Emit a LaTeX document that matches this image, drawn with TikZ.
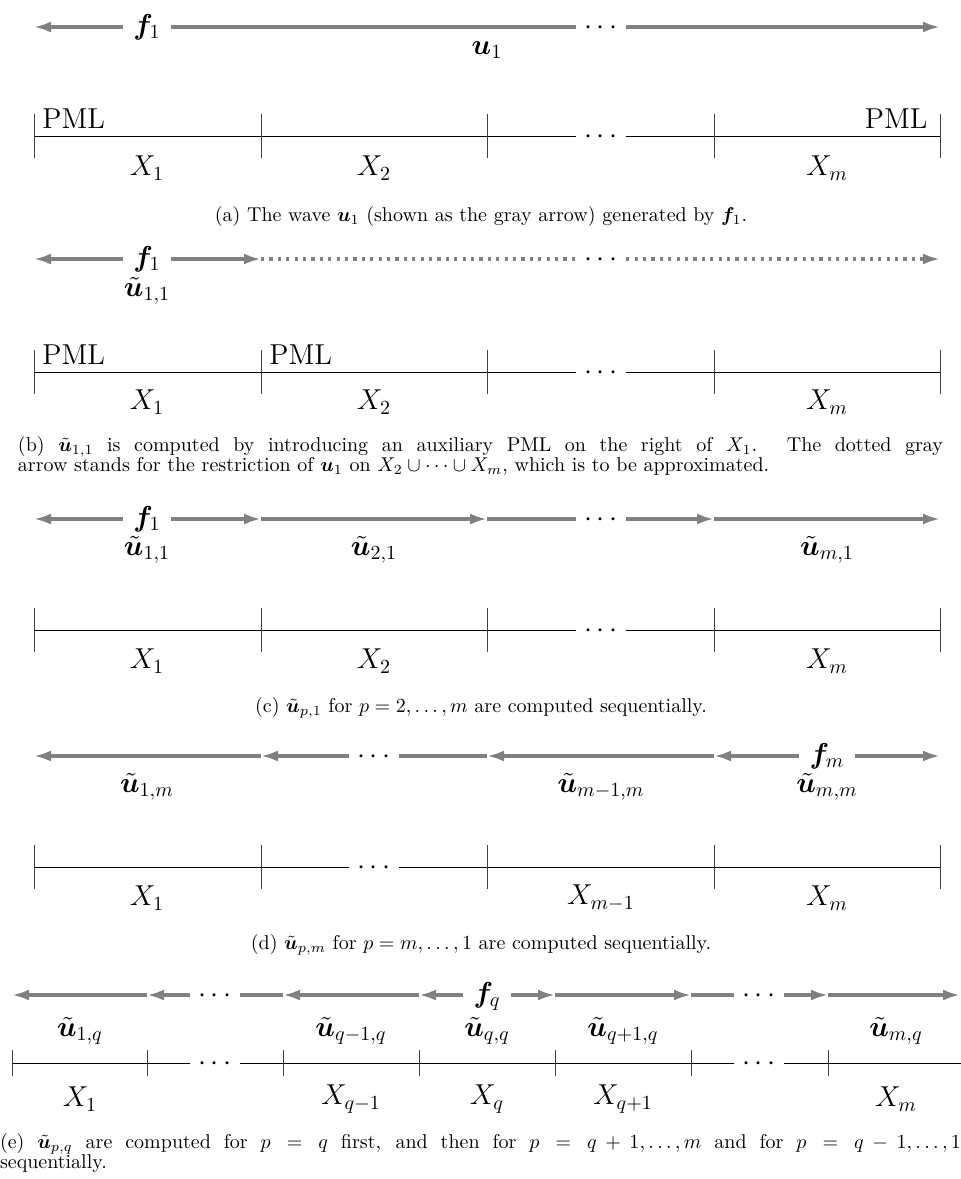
\documentclass[tikz,border=0pt]{standalone}
\usepackage{bm}
\usetikzlibrary{arrows.meta}
\tikzset{
  wave/.style={draw=gray, line width=1.6pt, -{Latex[length=8.5pt,width=5.5pt]}},
  waveline/.style={draw=gray, line width=1.6pt},
  wavedot/.style={draw=gray, line width=1.6pt, dash pattern=on 1.6pt off 2.6pt},
  seg/.style={draw=black, line width=0.5pt},
  tickmark/.style={draw=black!75, line width=0.5pt},
  onw/.style={font=\Large, inner xsep=5pt, inner ysep=0pt, text height=10pt, text depth=2.8pt},
  dts/.style={font=\Large, inner xsep=4pt, inner ysep=0pt, text height=7.2pt, text depth=0pt},
  lbl/.style={font=\Large, inner sep=0pt},
  pml/.style={font=\Large, inner sep=0pt},
  capt/.style={inner sep=0pt, font=\fontsize{10pt}{10pt}\selectfont},
}
\begin{document}
\begin{tikzpicture}[x=0.5pt,y=-0.5pt]
\useasboundingbox (0,0) rectangle (961,1179);

% ---------------- (a)
\coordinate (aL) at (34,27); \coordinate (aR) at (940,27);
\node[onw] (af) at (147,27) {$\bm f_1$};
\node[dts] (ad) at (601,27) {$\cdots$};
\node[lbl] (au) at (487,50) {$\bm u_1$};
\draw[wave] (af) -- (aL);
\draw[waveline] (af) -- (ad);
\draw[wave] (ad) -- (aR);
\coordinate (as0) at (34,136); \coordinate (as4) at (940,136);
\node[dts] (asd) at (601,136) {$\cdots$};
\draw[seg] (as0) -- (asd);
\draw[seg] (asd) -- (as4);
\foreach \x in {34,261,487,714,940} \draw[tickmark] (\x,114) -- (\x,158);
\node[pml, anchor=base west] (apl) at (42,128) {PML};
\node[pml, anchor=base east] (apr) at (928,128) {PML};
\node[lbl] (ax1) at (147,168) {$X_1$};
\node[lbl] (ax2) at (374,168) {$X_2$};
\node[lbl] (axm) at (827,168) {$X_m$};
\node[capt] (acap) at (481,216) {(a) The wave $\bm u_1$ (shown as the gray arrow) generated by $\bm f_1$.};

% ---------------- (b)
\coordinate (bL) at (34,259); \coordinate (b2) at (261,259); \coordinate (bR) at (940,259);
\node[onw] (bf) at (147,259) {$\bm f_1$};
\node[dts] (bd) at (601,259) {$\cdots$};
\node[lbl] (bu) at (147,291) {$\tilde{\bm u}_{1,1}$};
\draw[wave] (bf) -- (bL);
\draw[wave] (bf) -- (b2);
\draw[wavedot] (b2) -- (bd);
\draw[wavedot, -{Latex[length=8.5pt,width=5.5pt]}] (bd) -- (bR);
\coordinate (bs0) at (34,372); \coordinate (bs4) at (940,372);
\node[dts] (bsd) at (601,372) {$\cdots$};
\draw[seg] (bs0) -- (bsd);
\draw[seg] (bsd) -- (bs4);
\foreach \x in {34,261,487,714,940} \draw[tickmark] (\x,350) -- (\x,394);
\node[pml, anchor=base west] (bpl) at (42,364) {PML};
\node[pml, anchor=base west] (bp2) at (269,364) {PML};
\node[lbl] (bx1) at (147,402) {$X_1$};
\node[lbl] (bx2) at (374,402) {$X_2$};
\node[lbl] (bxm) at (827,402) {$X_m$};
\node[capt, text width=462.5pt, align=justify] (bcap) at (480.5,456) {(b) $\tilde{\bm u}_{1,1}$ is computed by introducing an auxiliary PML on the right of $X_1$. The dotted gray\linebreak arrow stands for the restriction of $\bm u_1$ on $X_2\cup\cdots\cup X_m$, which is to be approximated.};

% ---------------- (c)
\coordinate (cL) at (34,519); \coordinate (c2) at (261,519); \coordinate (c3) at (487,519);
\coordinate (c4) at (714,519); \coordinate (cR) at (940,519);
\node[onw] (cf) at (147,519) {$\bm f_1$};
\node[dts] (cd) at (601,519) {$\cdots$};
\draw[wave] (cf) -- (cL);
\draw[wave] (cf) -- (c2);
\draw[wave] (c2) -- (c3);
\draw[waveline] (c3) -- (cd);
\draw[wave] (cd) -- (c4);
\draw[wave] (c4) -- (cR);
\node[lbl] (cu1) at (147,550) {$\tilde{\bm u}_{1,1}$};
\node[lbl] (cu2) at (374,550) {$\tilde{\bm u}_{2,1}$};
\node[lbl] (cum) at (827,550) {$\tilde{\bm u}_{m,1}$};
\coordinate (cs0) at (34,630); \coordinate (cs4) at (940,630);
\node[dts] (csd) at (601,630) {$\cdots$};
\draw[seg] (cs0) -- (csd);
\draw[seg] (csd) -- (cs4);
\foreach \x in {34,261,487,714,940} \draw[tickmark] (\x,608) -- (\x,652);
\node[lbl] (cx1) at (147,661) {$X_1$};
\node[lbl] (cx2) at (374,661) {$X_2$};
\node[lbl] (cxm) at (827,661) {$X_m$};
\node[capt] (ccap) at (481,708) {(c) $\tilde{\bm u}_{p,1}$ for $p=2,\ldots,m$ are computed sequentially.};

% ---------------- (d)
\coordinate (dL) at (34,756); \coordinate (d2) at (261,756); \coordinate (d3) at (487,756);
\coordinate (d4) at (714,756); \coordinate (dR) at (940,756);
\node[onw] (df) at (827,756) {$\bm f_m$};
\node[dts] (dd) at (374,756) {$\cdots$};
\draw[wave] (d2) -- (dL);
\draw[waveline] (d3) -- (dd);
\draw[wave] (dd) -- (d2);
\draw[wave] (d4) -- (d3);
\draw[wave] (df) -- (d4);
\draw[wave] (df) -- (dR);
\node[lbl] (du1) at (147,787) {$\tilde{\bm u}_{1,m}$};
\node[lbl] (du2) at (601,787) {$\tilde{\bm u}_{m-1,m}$};
\node[lbl] (dum) at (827,787) {$\tilde{\bm u}_{m,m}$};
\coordinate (ds0) at (34,867); \coordinate (ds4) at (940,867);
\node[dts] (dsd) at (374,867) {$\cdots$};
\draw[seg] (ds0) -- (dsd);
\draw[seg] (dsd) -- (ds4);
\foreach \x in {34,261,487,714,940} \draw[tickmark] (\x,845) -- (\x,889);
\node[lbl] (dx1) at (147,898) {$X_1$};
\node[lbl] (dx2) at (601,898) {$X_{m-1}$};
\node[lbl] (dxm) at (827,898) {$X_m$};
\node[capt] (dcap) at (481,945) {(d) $\tilde{\bm u}_{p,m}$ for $p=m,\ldots,1$ are computed sequentially.};

% ---------------- (e)
\coordinate (e0) at (12,995); \coordinate (e1) at (147,995); \coordinate (e2) at (283,995);
\coordinate (e3) at (419,995); \coordinate (e4) at (555,995); \coordinate (e5) at (691,995);
\coordinate (e6) at (828,995); \coordinate (eR) at (960,995);
\node[onw] (ef) at (487,995) {$\bm f_q$};
\node[dts] (ed1) at (215,995) {$\cdots$};
\node[dts] (ed2) at (759,995) {$\cdots$};
\draw[wave] (e1) -- (e0);
\draw[waveline] (e2) -- (ed1);
\draw[wave] (ed1) -- (e1);
\draw[wave] (e3) -- (e2);
\draw[wave] (ef) -- (e3);
\draw[wave] (ef) -- (e4);
\draw[wave] (e4) -- (e5);
\draw[waveline] (e5) -- (ed2);
\draw[wave] (ed2) -- (e6);
\draw[wave] (e6) -- (eR);
\node[lbl] (eu1) at (80,1031) {$\tilde{\bm u}_{1,q}$};
\node[lbl] (eu2) at (351,1031) {$\tilde{\bm u}_{q-1,q}$};
\node[lbl] (eu3) at (487,1031) {$\tilde{\bm u}_{q,q}$};
\node[lbl] (eu4) at (623,1031) {$\tilde{\bm u}_{q+1,q}$};
\node[lbl] (eu5) at (896,1031) {$\tilde{\bm u}_{m,q}$};
\coordinate (es0) at (12,1063); \coordinate (esR) at (961,1063);
\node[dts] (esd1) at (215,1063) {$\cdots$};
\node[dts] (esd2) at (759,1063) {$\cdots$};
\draw[seg] (es0) -- (esd1);
\draw[seg] (esd1) -- (esd2);
\draw[seg] (esd2) -- (esR);
\foreach \x in {12,147,283,419,555,691,828} \draw[tickmark] (\x,1050) -- (\x,1076);
\node[lbl] (ex1) at (80,1099) {$X_1$};
\node[lbl] (ex2) at (351,1099) {$X_{q-1}$};
\node[lbl] (ex3) at (487,1099) {$X_q$};
\node[lbl] (ex4) at (623,1099) {$X_{q+1}$};
\node[lbl] (ex5) at (896,1099) {$X_m$};
\node[capt, text width=480.5pt, align=justify] (ecap) at (480.5,1153) {(e) $\tilde{\bm u}_{p,q}$ are computed for $p=q$ first, and then for $p=q+1,\ldots,m$ and for $p=q-1,\ldots,1$\linebreak sequentially.};
\end{tikzpicture}
\end{document}
